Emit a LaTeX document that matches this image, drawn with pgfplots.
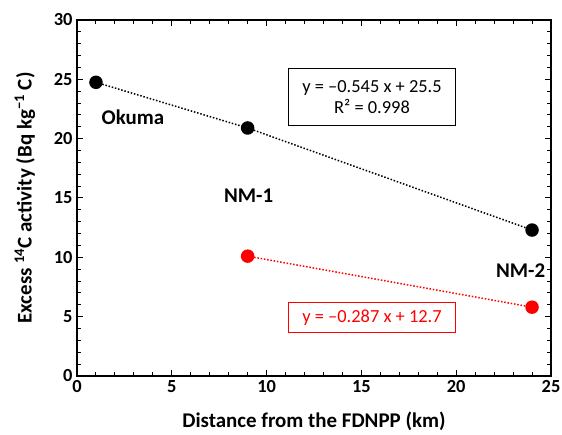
\documentclass[border=0pt]{standalone}
\usepackage{fontspec}
\setmainfont{Carlito}
\usepackage{pgfplots}
\pgfplotsset{compat=1.18}

\begin{document}
\begin{tikzpicture}
  \begin{axis}[
    width=474bp, height=356bp, scale only axis,
    xmin=0, xmax=25, ymin=0, ymax=30,
    xtick={0,5,...,25}, ytick={0,5,...,30},
    minor tick num=4,
    tick align=inside,
    major tick length=6bp, minor tick length=4bp,
    axis line style={line width=1.4bp},
    every tick/.style={black, line width=1bp},
    /pgf/number format/assume math mode=true,
    ticklabel style={font=\bfseries\fontsize{18.5}{18.5}\selectfont},
    xticklabel style={yshift=-1bp},
    yticklabel style={xshift=-1bp},
    xlabel={Distance from the FDNPP (km)},
    ylabel={Excess \textsuperscript{14}C activity (Bq kg\textsuperscript{−1} C)},
    label style={font=\bfseries\fontsize{21}{21}\selectfont},
    xlabel style={at={(axis description cs:0.5,-0.127)}, anchor=center},
    ylabel style={at={(axis description cs:-0.110,0.5)}, anchor=center},
    clip=false,
  ]
    % excess 14C, black series and its fit
    \addplot[black, line width=1.5bp, dash pattern=on 1.5bp off 1.8bp,
      mark=*, mark size=6bp, mark options={solid}] coordinates {
      (1,24.75) (9,20.9) (24,12.3)
    };
    \addplot[red, line width=1.5bp, dash pattern=on 1.5bp off 1.8bp,
      mark=*, mark size=6bp, mark options={solid}] coordinates {
      (9,10.1) (24,5.8)
    };

    \node[font=\bfseries\fontsize{21}{21}\selectfont] at (axis cs:2.95,21.8) {Okuma};
    \node[font=\bfseries\fontsize{21}{21}\selectfont] at (axis cs:9.05,15.2) {NM-1};
    \node[font=\bfseries\fontsize{21}{21}\selectfont] at (axis cs:23.4,8.85) {NM-2};

    \node[draw, line width=1bp, align=center, minimum width=167bp, minimum height=57bp,
      inner sep=2bp, font=\fontsize{18.5}{21}\selectfont] at (axis cs:15.56,23.5)
      {y = –0.545 x + 25.5\\R² = 0.998};
    \node[draw=red, text=red, line width=1bp, minimum width=167bp, minimum height=30bp,
      inner sep=2bp, font=\fontsize{18.5}{21}\selectfont] at (axis cs:15.56,4.9)
      {y = –0.287 x + 12.7};
  \end{axis}
  \pgfresetboundingbox
  \path ([xshift=-77bp,yshift=-59bp]current axis.south west) rectangle ++(562bp,435bp);
\end{tikzpicture}
\end{document}
